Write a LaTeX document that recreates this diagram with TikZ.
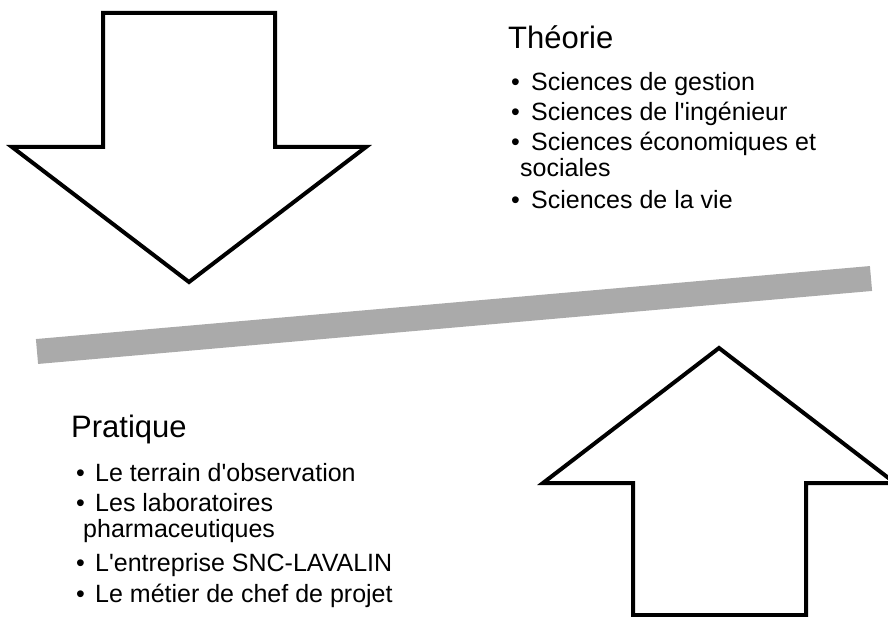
\documentclass[tikz,border=0pt]{standalone}
\usepackage{fontspec}
\setmainfont{Liberation Sans}[Ligatures=TeXOff]
\definecolor{barGray}{HTML}{AAAAAA}
\begin{document}
\begin{tikzpicture}[x=1pt,y=-1pt,
  bigarrow/.style={draw=black,line width=4pt,fill=white,line join=miter},
  titletext/.style={anchor=base west,inner sep=0pt,font=\fontsize{31}{36}\selectfont},
  itemtext/.style={anchor=base west,inner sep=0pt,font=\fontsize{25}{30}\selectfont},
  bul/.style={anchor=base west,inner sep=0pt,font=\fontsize{25}{30}\selectfont}]
\useasboundingbox (0,0) rectangle (888,617);
% grey bar
\coordinate (barL) at (37,351.5);
\coordinate (barR) at (871,278.5);
\draw[barGray,line width=25pt] (barL) -- (barR);
% down arrow
\draw[bigarrow] (103,13) -- (275,13) -- (275,147) -- (366,147) -- (189,282) -- (12,147) -- (103,147) -- cycle;
% up arrow
\draw[bigarrow] (633,615) -- (633,483) -- (543,483) -- (719,348) -- (895,483) -- (806,483) -- (806,615) -- cycle;
% Theorie
\node[titletext] (theo) at (508,49) {Théorie};
\node[bul] (tb1) at (511,91) {•};
\node[itemtext] (t1) at (531,91) {Sciences de gestion};
\node[bul] (tb2) at (511,121) {•};
\node[itemtext] (t2) at (531,121) {Sciences de l'ingénieur};
\node[bul] (tb3) at (511,151) {•};
\node[itemtext] (t3) at (531,151) {Sciences économiques et};
\node[itemtext] (t3b) at (520,177) {sociales};
\node[bul] (tb4) at (511,209) {•};
\node[itemtext] (t4) at (531,209) {Sciences de la vie};
% Pratique
\node[titletext] (prat) at (71,437) {Pratique};
\node[bul] (pb1) at (76,481) {•};
\node[itemtext] (p1) at (95,481) {Le terrain d'observation};
\node[bul] (pb2) at (76,511) {•};
\node[itemtext] (p2) at (95,511) {Les laboratoires};
\node[itemtext] (p2b) at (83,537) {pharmaceutiques};
\node[bul] (pb3) at (76,571) {•};
\node[itemtext] (p3) at (95,571) {L'entreprise SNC-LAVALIN};
\node[bul] (pb4) at (76,602) {•};
\node[itemtext] (p4) at (95,602) {Le métier de chef de projet};
\end{tikzpicture}
\end{document}
